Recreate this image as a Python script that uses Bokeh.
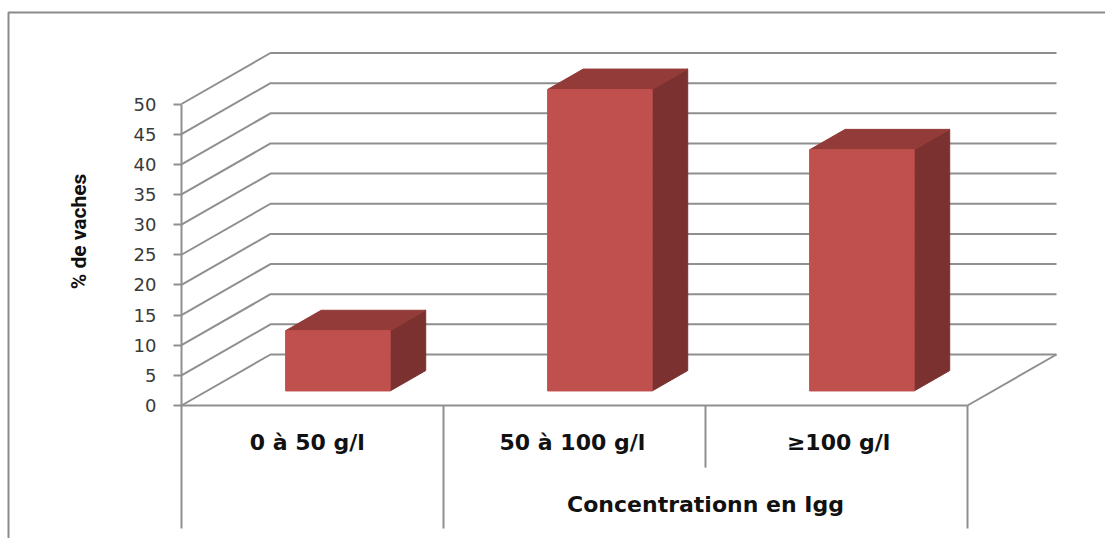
from math import pi

from bokeh.core.properties import value
from bokeh.embed import file_html
from bokeh.models import FixedTicker, LinearAxis, Range1d
from bokeh.plotting import figure
from bokeh.resources import INLINE

# Chart content
categories = ["0 à 50 g/l", "50 à 100 g/l", "≥100 g/l"]
percent_cows = [10, 50, 40]
y_ticks = [0, 5, 10, 15, 20, 25, 30, 35, 40, 45, 50]
y_title = "% de vaches"
x_title = "Concentrationn en Igg"

# Page and scale layout, in pixels
WIDTH, HEIGHT = 1105, 538
ORIGIN_X, ORIGIN_Y = 181, 405
PX_PER_CATEGORY = 262
PX_PER_PERCENT = 6.03

# Oblique projection: how far the back wall sits from the front plane
DEPTH_X = 89 / PX_PER_CATEGORY
DEPTH_Y = 51 / PX_PER_PERCENT

# Bar footprint as fractions of the depth and of a category slot
BAR_WIDTH = 104.5 / PX_PER_CATEGORY
BAR_FRONT = 0.285
BAR_BACK = 0.685

# Category labels sit a little off the slot centres
LABEL_SHIFT = [-0.02, -0.008, 0.008]

GRID = "#8f8f8f"
FRONT = "#c0504d"
TOP = "#933b39"
SIDE = "#7a312f"


def px_x(x):
    return (x - ORIGIN_X) / PX_PER_CATEGORY


def px_y(y):
    return (ORIGIN_Y - y) / PX_PER_PERCENT


p = figure(
    width=WIDTH,
    height=HEIGHT,
    output_backend="svg",
    toolbar_location=None,
    min_border=0,
    x_range=Range1d(px_x(0), px_x(WIDTH)),
    y_range=Range1d(px_y(HEIGHT), px_y(0)),
    x_axis_type=None,
    y_axis_type=None,
    outline_line_color=None,
    background_fill_color="white",
)
p.grid.visible = False

# Outer chart border: top and left edges
p.line(
    [px_x(WIDTH), px_x(8), px_x(8)],
    [px_y(12), px_y(12), px_y(HEIGHT)],
    line_color="#8a8a8a",
    line_width=2,
)

# Horizontal gridlines folding from the value axis onto the back wall
n_cat = len(categories)
grid_xs = [[0, DEPTH_X, n_cat + DEPTH_X] for _ in y_ticks]
grid_ys = [[t, t + DEPTH_Y, t + DEPTH_Y] for t in y_ticks]
p.multi_line(grid_xs, grid_ys, line_color=GRID, line_width=2)

# Right edge of the floor
p.line([n_cat, n_cat + DEPTH_X], [0, DEPTH_Y], line_color=GRID, line_width=2)

# Category separators below the floor; the inner boundary between the last two stops short
sep_x = [0, 1, 2, 3]
sep_len = [-20.4, -20.4, -10.3, -20.4]
p.segment(sep_x, [0] * 4, sep_x, sep_len, line_color=GRID, line_width=2)

# Bars: front face, top face and side face
for i, v in enumerate(percent_cows):
    x0 = i + 0.5 - BAR_WIDTH / 2 + BAR_FRONT * DEPTH_X
    x1 = x0 + BAR_WIDTH
    b0 = BAR_FRONT * DEPTH_Y
    dx = (BAR_BACK - BAR_FRONT) * DEPTH_X
    dy = (BAR_BACK - BAR_FRONT) * DEPTH_Y
    top = b0 + v
    p.patch([x1, x1 + dx, x1 + dx, x1], [b0, b0 + dy, top + dy, top], fill_color=SIDE, line_color=SIDE)
    p.patch([x0, x0 + dx, x1 + dx, x1], [top, top + dy, top + dy, top], fill_color=TOP, line_color=TOP)
    p.quad(left=x0, right=x1, bottom=b0, top=top, fill_color=FRONT, line_color=FRONT)

# Value axis
y_axis = LinearAxis(
    fixed_location=0,
    ticker=FixedTicker(ticks=y_ticks),
    bounds=(0, 50),
    axis_line_color=GRID,
    axis_line_width=2,
    major_tick_line_color=GRID,
    major_tick_line_width=2,
    major_tick_in=0,
    major_tick_out=8,
    minor_tick_line_color=None,
    major_label_standoff=17,
    major_label_text_font="DejaVu Sans",
    major_label_text_font_size="18px",
    major_label_text_color="#3a3a3a",
)
p.add_layout(y_axis, "left")

# Category axis along the front edge of the floor
label_ticks = [i + 0.5 + s for i, s in enumerate(LABEL_SHIFT)]
x_axis = LinearAxis(
    fixed_location=0,
    ticker=FixedTicker(ticks=label_ticks),
    major_label_overrides=dict(zip(label_ticks, categories)),
    bounds=(0, n_cat),
    axis_line_color=GRID,
    axis_line_width=2,
    major_tick_line_color=None,
    major_tick_in=0,
    major_tick_out=0,
    minor_tick_line_color=None,
    major_label_standoff=24,
    major_label_text_font="DejaVu Sans",
    major_label_text_font_style="bold",
    major_label_text_font_size="22px",
    major_label_text_color="#111111",
)
p.add_layout(x_axis, "below")

# Axis titles
p.text(
    [px_x(78)], [px_y(231)], text=[y_title], angle=pi / 2,
    text_align="center", text_baseline="middle",
    text_font=value("Roboto"), text_font_style="bold",
    text_font_size="21px", text_color="#111111",
)
p.text(
    [2], [px_y(504)], text=[x_title],
    text_align="center", text_baseline="middle",
    text_font=value("DejaVu Sans"), text_font_style="bold",
    text_font_size="22px", text_color="#111111",
)

open("out.html", "w").write(file_html(p, INLINE))
